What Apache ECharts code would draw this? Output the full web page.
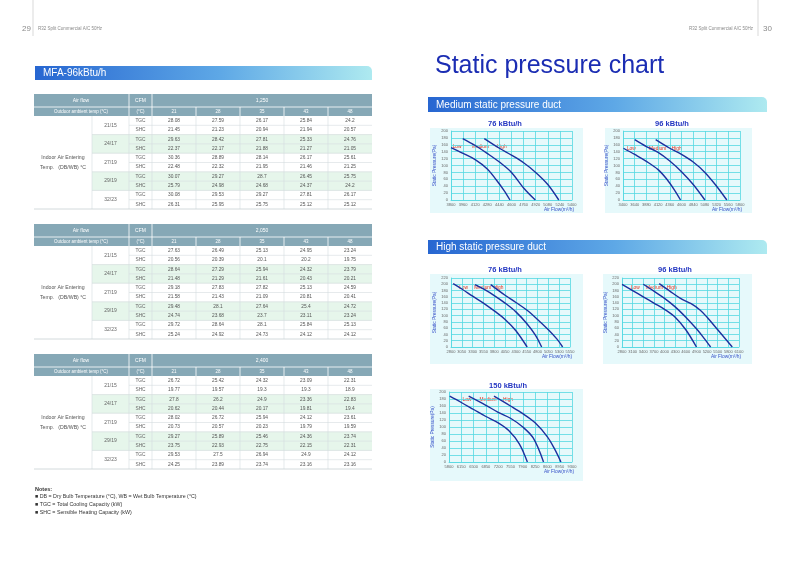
<!DOCTYPE html>
<html><head><meta charset="utf-8">
<script src="https://cdn.jsdelivr.net/npm/echarts@6/dist/echarts.min.js"></script>
<style>html,body{margin:0;padding:0;background:#fff}#c{width:800px;height:569px}</style>
</head><body><div id="c"></div>
<script>
// ---------- DATA ----------
const outdoorTemps = ['21', '28', '35', '43', '48'];
const indoorTemps = ['21/15', '24/17', '27/19', '29/19', '32/23'];
const tableCFM = ['1,250', '2,050', '2,400'];
const t1TGC = [[28.08,27.59,26.17,25.84,24.2],[29.63,28.42,27.81,25.33,24.76],[30.36,28.89,28.14,26.17,25.61],[30.07,29.27,28.7,26.45,25.75],[30.08,29.53,29.27,27.81,26.17]];
const t1SHC = [[21.45,21.23,20.94,21.94,20.57],[22.37,22.17,21.88,21.27,21.05],[22.48,22.32,21.95,21.46,21.25],[25.79,24.98,24.68,24.37,24.2],[26.31,25.95,25.75,25.12,25.12]];
const t2TGC = [[27.63,26.49,25.13,24.95,23.24],[28.64,27.29,25.94,24.32,23.79],[29.18,27.83,27.82,25.13,24.59],[29.48,28.1,27.64,25.4,24.72],[29.72,28.64,28.1,25.84,25.13]];
const t2SHC = [[20.56,20.39,20.1,20.2,19.75],[21.48,21.29,21.61,20.43,20.21],[21.58,21.43,21.09,20.81,20.41],[24.74,23.68,23.7,23.11,23.24],[25.24,24.92,24.73,24.12,24.12]];
const t3TGC = [[26.72,25.42,24.32,23.09,22.31],[27.8,26.2,24.9,23.36,22.83],[28.02,26.72,25.94,24.12,23.61],[29.27,25.89,25.46,24.36,23.74],[29.53,27.5,26.94,24.9,24.12]];
const t3SHC = [[19.77,19.57,19.3,19.30,18.90],[20.62,20.44,20.17,19.81,19.4],[20.73,20.57,20.23,19.79,19.59],[23.75,22.93,22.75,22.15,22.31],[24.25,23.89,23.74,23.16,23.16]];

const notes = ['DB = Dry Bulb Temperature (\u00b0C), WB = Wet Bulb Temperature (\u00b0C)', 'TGC = Total Cooling Capacity (kW)', 'SHC = Sensible Heating Capacity (kW)'];
const curveNames = ['Low', 'Medium', 'High'];

// chart A: 76 kBtu/h medium
const aTitle = '76 kBtu/h', aXMin = 3800, aXStep = 160, aXCount = 10, aYMax = 200;
const aLow = [[3800,152],[3960,135],[4120,117],[4280,90],[4400,58],[4500,28],[4580,0]];
const aMed = [[3955,178],[4120,158],[4280,135],[4440,110],[4600,80],[4760,35],[4915,0]];
const aHigh = [[4240,178],[4440,150],[4600,130],[4760,108],[4920,80],[5080,45],[5225,0]];
const aLabels = [[3880,156],[4190,156],[4470,156]];
// chart B: 96 kBtu/h medium
const bTitle = '96 kBtu/h', bXMin = 3400, bXStep = 240, bXCount = 10, bYMax = 200;
const bLow = [[3410,150],[3640,132],[3880,112],[4120,88],[4300,60],[4450,30],[4580,0]];
const bMed = [[3640,175],[3880,155],[4120,138],[4360,113],[4600,82],[4840,45],[5080,0]];
const bHigh = [[4070,175],[4360,150],[4600,132],[4840,110],[5080,80],[5320,40],[5530,0]];
const bLabels = [[3570,148],[4110,148],[4500,148]];
// chart C: 76 kBtu/h high
const cTitle = '76 kBtu/h', cXMin = 2800, cXStep = 250, cXCount = 11, cYMax = 220;
const cLow = [[2850,202],[3050,185],[3300,162],[3550,140],[3800,115],[4050,88],[4300,52],[4560,0]];
const cMed = [[3355,199],[3550,185],[3800,164],[4050,140],[4300,112],[4550,75],[4750,38],[4895,0]];
const cHigh = [[3717,199],[4050,165],[4300,142],[4550,118],[4800,88],[5050,55],[5250,25],[5380,0]];
const cLabels = [[3090,190],[3535,190],[3895,190]];
// chart D: 96 kBtu/h high
const dTitle = '96 kBtu/h', dXMin = 2800, dXStep = 300, dXCount = 11, dYMax = 220;
const dLow = [[2800,200],[3100,180],[3400,160],[3700,140],[4000,120],[4300,95],[4600,55],[4900,0]];
const dMed = [[3400,200],[3700,178],[4000,155],[4300,128],[4600,95],[4900,58],[5100,30],[5300,0]];
const dHigh = [[3850,202],[4150,178],[4450,155],[4750,138],[5000,118],[5200,95],[5500,55],[5910,0]];
const dLabels = [[3175,190],[3715,190],[4200,190]];
// chart E: 150 kBtu/h high
const eTitle = '150 kBtu/h', eXMin = 5800, eXStep = 350, eXCount = 10, eYMax = 200;
const eLow = [[5820,188],[6150,170],[6500,150],[6850,130],[7200,112],[7500,90],[7800,52],[8030,0]];
const eMed = [[6360,188],[6850,162],[7200,142],[7550,125],[7900,100],[8200,68],[8490,0]];
const eHigh = [[7080,188],[7550,160],[7900,138],[8250,112],[8600,72],[8800,38],[8985,0]];
const eLabels = [[6310,178],[6910,178],[7480,178]];

// ---------- LAYOUT / STYLE ----------
const FONT = 'Liberation Sans, Arial, sans-serif';
const g = [];
function txt(x, y, s, size, color, align, extra) {
  g.push(Object.assign({type: 'text', x: x, y: y, silent: true, z: 10,
    style: {text: s, fill: color || '#555', font: (size || 5) + 'px ' + FONT, align: align || 'left', verticalAlign: 'middle'}}, extra || {}));
}
function rect(x, y, w, h, fill, z) {
  g.push({type: 'rect', silent: true, z: z || 1, shape: {x: x, y: y, width: w, height: h}, style: {fill: fill}});
}
function line(x1, y1, x2, y2, color, w, z) {
  g.push({type: 'line', silent: true, z: z || 3, shape: {x1: x1, y1: y1, x2: x2, y2: y2}, style: {stroke: color, lineWidth: w || 0.6}});
}
const grad = {type: 'linear', x: 0, y: 0, x2: 1, y2: 0, colorStops: [{offset: 0, color: '#2766d1'}, {offset: 0.55, color: '#5ea8e6'}, {offset: 1, color: '#aeeaf0'}]};
function banner(x, y, w, h, s, size) {
  g.push({type: 'rect', silent: true, z: 2, shape: {x: x, y: y, width: w, height: h, r: [0, 5, 0, 0]}, style: {fill: grad}});
  txt(x + 8, y + h / 2 + 0.5, s, size, '#ffffff', 'left');
}

// page header
txt(22, 29, '29', 8, '#8a8a8a');
line(33, 0, 33, 36, '#cfcfcf', 0.8);
txt(38, 29, 'R32 Split Commercial A/C 50Hz', 4.5, '#8a8a8a');
txt(753, 29, 'R32 Split Commercial A/C 50Hz', 4.5, '#8a8a8a', 'right');
line(758, 0, 758, 36, '#cfcfcf', 0.8);
txt(763, 29, '30', 8, '#8a8a8a');

banner(35, 66, 337, 14, 'MFA-96kBtu/h', 10);
txt(435, 66, 'Static pressure chart', 25, '#1b2db3');
banner(428, 97, 339, 15, 'Medium static pressure duct', 10);
banner(428, 240, 339, 14, 'High static pressure duct', 10);

// tables
const colX = [34, 92, 129, 152, 196, 240, 284, 328, 372];
function drawTable(top, cfm, tgc, shc) {
  const h1 = 13, h2 = 9, rh = 9.3;
  const hdr = '#86a8b6';
  rect(34, top, 338, h1 + h2, hdr, 1);
  line(34, top + h1, 372, top + h1, '#ffffff', 0.8, 4);
  [129, 152].forEach(x => line(x, top, x, top + h1 + h2, '#ffffff', 0.8, 4));
  [196, 240, 284, 328].forEach(x => line(x, top + h1, x, top + h1 + h2, '#ffffff', 0.8, 4));
  txt(81, top + h1 / 2, 'Air flow', 5, '#fff', 'center');
  txt(140.5, top + h1 / 2, 'CFM', 5, '#fff', 'center');
  txt(262, top + h1 / 2, cfm, 5, '#fff', 'center');
  txt(81, top + h1 + h2 / 2, 'Outdoor ambient temp (\u00b0C)', 4.5, '#fff', 'center');
  txt(140.5, top + h1 + h2 / 2, '(\u00b0C)', 4.5, '#fff', 'center');
  outdoorTemps.forEach((t, i) => txt((colX[i + 3] + colX[i + 4]) / 2, top + h1 + h2 / 2, t, 4.5, '#fff', 'center'));
  const y0 = top + h1 + h2;
  for (let gi = 0; gi < 5; gi++) {
    const gy = y0 + gi * 2 * rh;
    if (gi % 2 === 1) rect(92, gy, 280, 2 * rh, '#e6f6eb', 1);
    txt(110.5, gy + rh, indoorTemps[gi], 5, '#666', 'center');
    [['TGC', tgc[gi]], ['SHC', shc[gi]]].forEach((r, k) => {
      const ry = gy + k * rh + rh / 2;
      txt(140.5, ry, r[0], 4.8, '#666', 'center');
      r[1].forEach((v, i) => txt((colX[i + 3] + colX[i + 4]) / 2, ry, String(v), 4.8, '#555', 'center'));
    });
    line(129, gy + rh, 372, gy + rh, '#d5dcdf');
    if (gi > 0) line(92, gy, 372, gy, '#d0d7da');
  }
  const yb = y0 + 10 * rh;
  [92, 129, 152, 196, 240, 284, 328].forEach(x => line(x, y0, x, yb, '#d5dcdf'));
  line(34, yb, 372, yb, '#c8d0d3', 0.8);
  txt(63, y0 + 5 * rh - 5, 'Indoor Air Entering', 5.2, '#555', 'center');
  txt(63, y0 + 5 * rh + 5, 'Temp.   (DB/WB) \u00b0C', 5.2, '#555', 'center');
}
drawTable(94, tableCFM[0], t1TGC, t1SHC);
drawTable(224, tableCFM[1], t2TGC, t2SHC);
drawTable(354, tableCFM[2], t3TGC, t3SHC);

// notes
txt(35, 489, 'Notes:', 5.5, '#333', 'left', {style: {text: 'Notes:', fill: '#333', font: 'bold 5.5px ' + FONT, verticalAlign: 'middle'}});
notes.forEach((n, i) => txt(35, 497 + i * 8, '\u25a0 ' + n, 5.3, '#333'));

// charts
const charts = [
  {title: aTitle, xmin: aXMin, step: aXStep, n: aXCount, ymax: aYMax, curves: [aLow, aMed, aHigh], labels: aLabels, grid: {left: 451, top: 131, width: 121, height: 69}, panel: [430, 128, 153, 85], tx: 505, ty: 124},
  {title: bTitle, xmin: bXMin, step: bXStep, n: bXCount, ymax: bYMax, curves: [bLow, bMed, bHigh], labels: bLabels, grid: {left: 623, top: 131, width: 117, height: 69}, panel: [605, 128, 147, 85], tx: 672, ty: 124},
  {title: cTitle, xmin: cXMin, step: cXStep, n: cXCount, ymax: cYMax, curves: [cLow, cMed, cHigh], labels: cLabels, grid: {left: 451, top: 278, width: 119, height: 69}, panel: [430, 274, 153, 90], tx: 505, ty: 270},
  {title: dTitle, xmin: dXMin, step: dXStep, n: dXCount, ymax: dYMax, curves: [dLow, dMed, dHigh], labels: dLabels, grid: {left: 622, top: 278, width: 117, height: 69}, panel: [603, 274, 149, 90], tx: 675, ty: 270},
  {title: eTitle, xmin: eXMin, step: eXStep, n: eXCount, ymax: eYMax, curves: [eLow, eMed, eHigh], labels: eLabels, grid: {left: 449, top: 392, width: 123, height: 70}, panel: [430, 389, 153, 92], tx: 508, ty: 386}
];
const grids = [], xAxes = [], yAxes = [], series = [];
const cyan = '#55d8e2';
charts.forEach((c, ci) => {
  grids.push(Object.assign({containLabel: false}, c.grid));
  rect(c.panel[0], c.panel[1], c.panel[2], c.panel[3], '#e6f9fb', 0);
  txt(c.tx, c.ty, c.title, 7.5, '#2437c2', 'center', {style: {text: c.title, fill: '#2437c2', font: 'bold 7.5px ' + FONT, align: 'center', verticalAlign: 'middle'}});
  txt(c.grid.left + c.grid.width + 2, c.grid.top + c.grid.height + 10, 'Air Flow(m\u00b3/h)', 4.8, '#3550c8', 'right');
  const base = c.xmin;
  xAxes.push({type: 'value', gridIndex: ci, min: 0, max: c.step * c.n, interval: c.step, z: 20,
    axisLine: {show: true, lineStyle: {color: cyan, width: 0.8}}, axisTick: {show: false},
    splitLine: {show: true, lineStyle: {color: cyan, width: 0.8}},
    axisLabel: {fontSize: 4, color: '#666', margin: 3, fontFamily: FONT, formatter: v => String(v + base)}});
  yAxes.push({type: 'value', gridIndex: ci, min: 0, max: c.ymax, interval: 20, z: 20,
    name: 'Static Pressure(Pa)', nameLocation: 'middle', nameRotate: 90, nameGap: 14,
    nameTextStyle: {fontSize: 4.8, color: '#3550c8', fontFamily: FONT},
    axisLine: {show: true, lineStyle: {color: cyan, width: 0.8}}, axisTick: {show: false},
    splitLine: {show: true, lineStyle: {color: cyan, width: 0.8}},
    axisLabel: {fontSize: 4, color: '#666', margin: 3, fontFamily: FONT}});
  c.curves.forEach((cv, k) => {
    series.push({type: 'line', xAxisIndex: ci, yAxisIndex: ci, smooth: 0.35, symbol: 'none', z: 30,
      lineStyle: {color: '#1d2f9e', width: 1.4}, silent: true, animation: false,
      data: cv.map(p => [p[0] - base, p[1]]),
      markPoint: {symbol: 'circle', symbolSize: 0, silent: true, animation: false,
        label: {show: true, color: '#e0321f', fontSize: 4.8, fontFamily: FONT, formatter: '{b}'},
        data: [{name: curveNames[k], coord: [c.labels[k][0] - base, c.labels[k][1]]}]}});
  });
});

const chart = echarts.init(document.getElementById('c'), null, {renderer: 'canvas'});
chart.setOption({
  backgroundColor: '#ffffff', animation: false,
  grid: grids, xAxis: xAxes, yAxis: yAxes, series: series,
  graphic: {z: -10, zlevel: 0, elements: g}
});
</script></body></html>
